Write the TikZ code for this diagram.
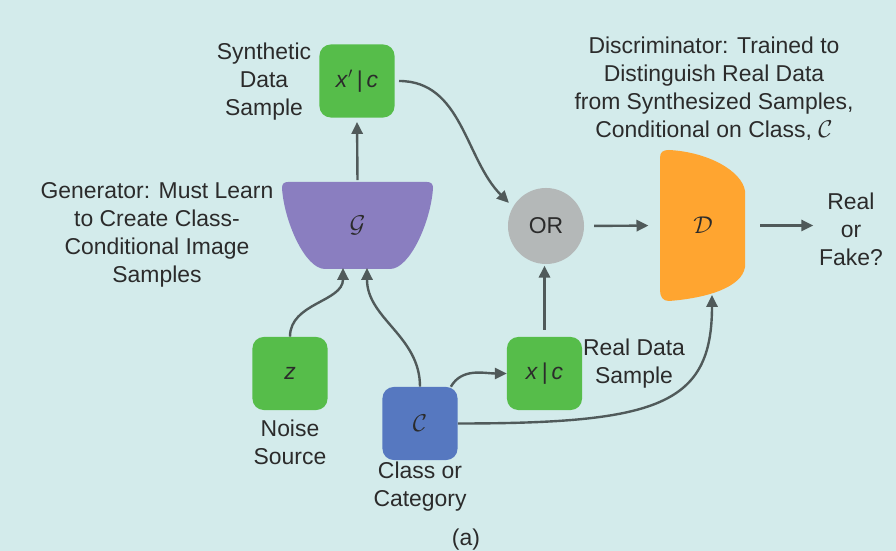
\documentclass[tikz,border=0pt]{standalone}
\usepackage{fontspec}
\setmainfont{Liberation Sans}
\usetikzlibrary{arrows.meta}
\definecolor{bgcol}{HTML}{D3EBEB}
\definecolor{txtcol}{HTML}{2B2B2B}
\definecolor{greencol}{HTML}{56BD4A}
\definecolor{bluecol}{HTML}{5678C0}
\definecolor{purplecol}{HTML}{8A7EC0}
\definecolor{orangecol}{HTML}{FFA530}
\definecolor{graycol}{HTML}{B4B8B8}
\definecolor{arrowcol}{HTML}{505A5A}

\begin{document}
\begin{tikzpicture}[
		x=0.025cm, y=0.025cm,
		font=\fontsize{16.3}{19.9}\selectfont,
		every node/.style={text=txtcol},
		sample/.style={rectangle, rounded corners=8pt, fill=greencol, minimum width=1.875cm, minimum height=1.825cm, inner sep=0pt},
		caption/.style={align=center, inner sep=0pt},
		flow/.style={draw=arrowcol, line width=1.7pt, -{Triangle[length=8.5pt,width=8pt]}}
		]
		\useasboundingbox (0,0) rectangle (896,551);
		\fill[bgcol] (0,0) rectangle (896,551);
		% generator and discriminator bodies
		\fill[purplecol] (288,369) -- (427,369) .. controls (431,369) and (433,367) .. (433,363)
			.. controls (431,330) and (410,282) .. (390,282) -- (325,282)
			.. controls (305,282) and (284,330) .. (282,363) .. controls (282,367) and (284,369) .. (288,369) -- cycle;
		\fill[orangecol] (660,261) -- (660,393) .. controls (660,399) and (663,401) .. (669,401)
			.. controls (708,399) and (742,380) .. (745,360) -- (745,284)
			.. controls (742,264) and (708,253) .. (669,250) .. controls (663,250) and (660,254) .. (660,261) -- cycle;
		\node[minimum width=3.75cm, minimum height=2.15cm, inner sep=0pt] (gen) at (357.5,325.5) {$\mathcal{G}$};
		\node[minimum width=2.15cm, minimum height=3.8cm, inner sep=0pt] (disc) at (703,325.5) {$\mathcal{D}$};
		\node[sample] (synth) at (357,470) {\textit{x}$'$\,|\,\textit{c}};
		\node[sample] (noise) at (290,177.5) {\textit{z}};
		\node[sample] (real) at (544.5,177.5) {\textit{x}\,|\,\textit{c}};
		\node[sample, fill=bluecol] (cls) at (420,127.5) {$\mathcal{C}$};
		\node[circle, fill=graycol, minimum size=1.9cm, inner sep=0pt] (or) at (546,325) {OR};
		\coordinate (gen-in-z) at (343,283);
		\coordinate (gen-in-c) at (367,283);
		\coordinate (disc-in-c) at (712,256);
		% texts
		\node[caption] (synthlbl) at (264,469) {Synthetic\\Data\\Sample};
		\node[caption] (genlbl) at (157,316) {Generator: Must Learn\\to Create Class-\\Conditional Image\\Samples};
		\node[caption] (noiselbl) at (290,109) {Noise\\Source};
		\node[caption] (clslbl) at (420,64) {Class or\\Category};
		\node[caption] (reallbl) at (634,187) {Real Data\\Sample};
		\node[caption] (disclbl) at (714,462) {Discriminator: Trained to\\Distinguish Real Data\\from Synthesized Samples,\\Conditional on Class, $\mathcal{C}$};
		\node[caption] (verdict) at (851,322) {Real\\or\\Fake?};
		\node[caption] (tag) at (466,11) {(a)};
		% connectors
		\draw[flow, shorten <=1.5pt, shorten >=3pt] (gen.north) -- (synth.south);
		\draw[flow] (noise.north) to[out=90, in=-90] (gen-in-z);
		\draw[flow] (cls.north) to[out=90, in=-90] (gen-in-c);
		\draw[flow] (cls.50) to[out=60, in=180] (real.west);
		\draw[flow] (cls.east) .. controls +(200,0) and +(0,-110) .. (disc-in-c);
		\draw[flow, shorten <=3pt, shorten >=4pt] (synth.east) to[out=0, in=135] (or.150);
		\draw[flow, shorten <=5pt, shorten >=1pt] (real.north) -- (real.north |- or.south);
		\draw[flow, shorten <=7pt, shorten >=8pt] (or.east) -- (disc.west);
		\draw[flow, shorten <=10pt, shorten >=4pt] (disc.east) -- (disc.east -| verdict.west);
		\end{tikzpicture}
\end{document}
